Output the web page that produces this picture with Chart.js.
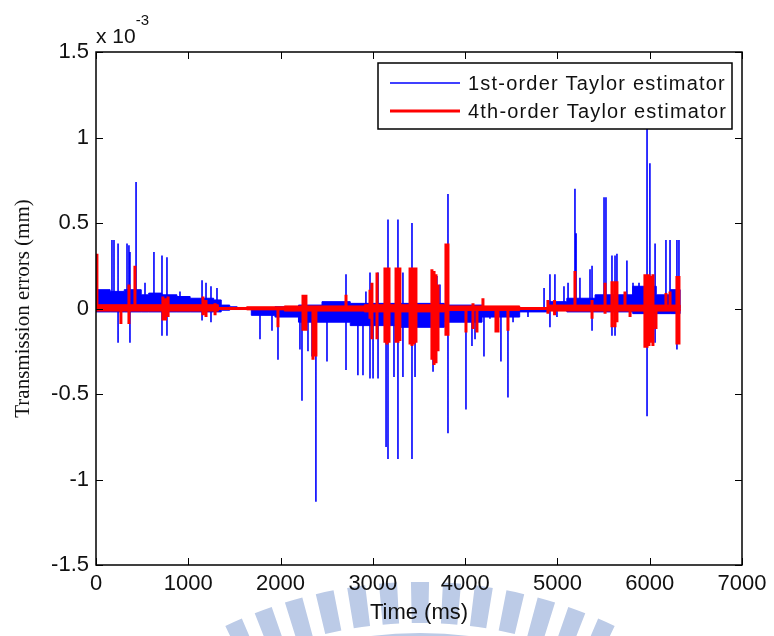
<!DOCTYPE html>
<html lang="en">
<head>
<meta charset="UTF-8">
<title>Transmission errors - Taylor estimators</title>
<script src="https://cdn.jsdelivr.net/npm/chart.js@4.4.1/dist/chart.umd.min.js"></script>
<style>
    html, body { margin: 0; padding: 0; background: #fff; }
    #wrap { width: 774px; height: 636px; }
</style>
</head>
<body>
<div id="wrap"><canvas id="errChart" width="774" height="636"></canvas></div>
<script>
// all values are in 1e-3 mm (the axis carries the "x 10^-3" multiplier)
const xTicks = [0, 1000, 2000, 3000, 4000, 5000, 6000, 7000];
const xTickLabels = ['0', '1000', '2000', '3000', '4000', '5000', '6000', '7000'];
const yTicks = [-1.5, -1, -0.5, 0, 0.5, 1, 1.5];
const yTickLabels = ['-1.5', '-1', '-0.5', '0', '0.5', '1', '1.5'];

const seriesStart = 0;
const seriesEnd = 6330;

// 1st-order estimator: isolated spikes (time ms, peak above / below zero)
const blueSpikeTimes = [173, 195, 239, 336, 357, 368, 434, 531, 628, 715, 769, 910, 1149, 1192, 1246, 1311,
    1777, 1907, 1972, 2210, 2232, 2297, 2341, 2383, 2503, 2709, 2838, 2893, 2925, 2969, 3002, 3056,
    3143, 3164, 3229, 3272, 3326, 3424, 3457, 3652, 3694, 3727, 3814, 4009, 4074, 4107, 4204, 4269,
    4388, 4464, 4519, 4681, 4855, 4919, 4973, 4995, 5071, 5115, 5190, 5202, 5244, 5353, 5375, 5505,
    5526, 5591, 5624, 5645, 5753, 5819, 5884, 5971, 6002, 6058, 6176, 6220, 6295, 6317];
const blueSpikeHigh = [0.40, 0.40, 0.38, 0.38, 0.37, 0.33, 0.74, 0.15, 0.33, 0.31, 0.30, 0.10, 0.165, 0.15, 0.13, 0.12,
    0, 0, 0, 0, 0, 0, 0, 0, 0, 0.20, 0, 0, 0.10, 0.21, 0, 0.21,
    0, 0.52, 0, 0.52, 0.21, 0.50, 0, 0, 0.19, 0.14, 0.67, 0, 0, 0, 0, 0,
    0, 0, 0, 0, 0.12, 0.20, 0.20, 0, 0.13, 0.15, 0.70, 0.44, 0.18, 0.23, 0.25, 0.65,
    0.65, 0.31, 0.31, 0.32, 0.28, 0.15, 0.15, 1.05, 0.85, 0.38, 0.40, 0.40, 0.40, 0.40];
const blueSpikeLow = [0, 0, -0.20, 0, 0, -0.20, 0, 0, 0, -0.16, -0.16, 0, -0.07, 0, -0.08, 0,
    -0.18, -0.13, -0.30, -0.24, -0.54, -0.25, -0.28, -1.13, -0.31, -0.36, -0.39, -0.39, 0, -0.41, -0.41, -0.41,
    -0.81, -0.88, -0.40, -0.88, -0.40, -0.88, -0.40, -0.37, 0, 0, -0.73, -0.59, -0.22, -0.18, -0.28, -0.06,
    -0.31, -0.52, -0.08, -0.05, 0, -0.11, 0, -0.05, 0, 0, 0, 0, 0, 0, -0.13, 0,
    0, -0.16, -0.16, 0, 0, 0, 0, -0.63, 0, -0.20, 0, 0, -0.24, 0];

// 1st-order estimator: envelope of the dense oscillation
const blueBandTimes = [0, 153, 306, 490, 571, 714, 877, 1020, 1173, 1275, 1357, 1449, 1530, 1683, 1939,
    2194, 2449, 2755, 3265, 3775, 4183, 4591, 4897, 5102, 5408, 5816, 6071, 6224, 6330];
const blueBandUpper = [0.11, 0.10, 0.11, 0.08, 0.09, 0.08, 0.07, 0.06, 0.06, 0.05, 0.02, 0.01, 0, 0, 0.01,
    0.02, 0.04, 0.03, 0.03, 0.02, 0.01, 0, 0.04, 0.06, 0.08, 0.13, 0.08, 0.11, 0];
const blueBandLower = [-0.02, -0.02, -0.02, -0.02, -0.02, -0.02, -0.02, -0.02, -0.02, -0.02, -0.01, 0, 0, -0.04, -0.05,
    -0.08, -0.08, -0.10, -0.11, -0.08, -0.05, -0.02, -0.01, -0.02, -0.02, -0.03, -0.03, -0.03, 0];

// 4th-order estimator: isolated spikes
const redSpikeTimes = [10, 270, 357, 422, 725, 753, 781, 1159, 1192, 1290, 1972, 2243, 2275, 2351, 2383,
    2709, 2969, 2990, 3045, 3131, 3153, 3175, 3251, 3272, 3293, 3403, 3424, 3446, 3467, 3640, 3663,
    3684, 3706, 3792, 3814, 4009, 4085, 4128, 4193, 4334, 4356, 4464, 4897, 4969, 5190, 5375, 5516,
    5591, 5624, 5645, 5732, 5787, 5948, 5971, 5992, 6014, 6035, 6068, 6176, 6220, 6295, 6317];
const redSpikeHigh = [0.32, 0, 0.14, 0.25, 0.07, 0.06, 0.07, 0.07, 0.05, 0.03, 0, 0.08, 0.08, 0, 0,
    0.08, 0.11, 0.15, 0.21, 0.24, 0.24, 0.24, 0.24, 0.24, 0.24, 0.24, 0.24, 0.24, 0.24, 0.23, 0.22,
    0.20, 0.14, 0.38, 0.38, 0, 0.03, 0, 0.06, 0, 0, 0, 0.05, 0.05, 0.22, 0.05, 0.15,
    0.16, 0.16, 0.16, 0.10, 0, 0.20, 0.20, 0.20, 0.19, 0.20, 0, 0.09, 0.10, 0.19, 0.19];
const redSpikeLow = [0, -0.09, -0.09, 0, -0.07, -0.07, -0.05, -0.04, -0.05, -0.04, -0.11, -0.13, -0.13, -0.30, -0.28,
    0, -0.06, -0.18, -0.18, -0.20, -0.21, -0.20, -0.20, -0.20, -0.19, -0.21, -0.22, -0.21, -0.20, -0.30, -0.33,
    -0.32, -0.25, -0.16, -0.16, -0.14, -0.12, -0.14, 0, -0.14, -0.14, -0.13, -0.03, -0.04, 0, -0.06, -0.03,
    -0.11, -0.11, -0.08, 0, -0.05, -0.23, -0.23, -0.22, -0.20, -0.22, -0.12, 0, 0, -0.21, -0.21];

// 4th-order estimator: envelope of the dense oscillation
const redBandTimes = [0, 1326, 1632, 2041, 2908, 3775, 4591, 4897, 6330];
const redBandUpper = [0.022, 0.006, 0.01, 0.015, 0.022, 0.015, 0.004, 0.02, 0];
const redBandLower = [-0.015, -0.006, -0.008, -0.015, -0.02, -0.012, -0.004, -0.015, 0];

const legendLabels = ['1st-order Taylor estimator', '4th-order Taylor estimator'];
const blue = '#0000ff';
const red = '#ff0000';

function spikePoints(times, highs, lows) {
    const pts = [{ x: seriesStart, y: 0 }];
    times.forEach((t, i) => {
        pts.push({ x: t, y: 0 });
        if (highs[i]) pts.push({ x: t, y: highs[i] });
        if (lows[i]) pts.push({ x: t, y: lows[i] });
        pts.push({ x: t, y: 0 });
    });
    pts.push({ x: seriesEnd, y: 0 });
    return pts;
}

function bandPoints(times, values) {
    return times.map((t, i) => ({ x: t, y: values[i] }));
}

// MATLAB-like box, inward ticks, exponent label, legend and the faint watermark
const matlabFrame = {
    id: 'matlabFrame',
    beforeDraw(chart) {
        const ctx = chart.ctx;
        ctx.save();
        ctx.fillStyle = '#bccbe7';
        const cx = 420, cy = 1035;
        for (let k = -6; k <= 6; k++) {
            const mid = -Math.PI / 2 + k * 0.0707;
            ctx.beginPath();
            ctx.arc(cx, cy, 453, mid - 0.02, mid + 0.02);
            ctx.arc(cx, cy, 412, mid + 0.02, mid - 0.02, true);
            ctx.closePath();
            ctx.fill();
        }
        ctx.beginPath();
        ctx.arc(cx, cy, 402, -Math.PI / 2 - 0.4, -Math.PI / 2 + 0.4);
        ctx.arc(cx, cy, 384, -Math.PI / 2 + 0.4, -Math.PI / 2 - 0.4, true);
        ctx.closePath();
        ctx.fill();
        ctx.restore();
    },
    afterDraw(chart) {
        const { ctx, chartArea: a, scales: { x, y } } = chart;
        ctx.save();
        ctx.strokeStyle = '#000';
        ctx.lineWidth = 1.5;
        ctx.strokeRect(a.left, a.top, a.right - a.left, a.bottom - a.top);
        ctx.beginPath();
        xTicks.forEach(v => {
            const px = Math.round(x.getPixelForValue(v)) + 0.5;
            ctx.moveTo(px, a.bottom); ctx.lineTo(px, a.bottom - 7);
            ctx.moveTo(px, a.top); ctx.lineTo(px, a.top + 7);
        });
        yTicks.forEach(v => {
            const py = Math.round(y.getPixelForValue(v)) + 0.5;
            ctx.moveTo(a.left, py); ctx.lineTo(a.left + 7, py);
            ctx.moveTo(a.right, py); ctx.lineTo(a.right - 7, py);
        });
        ctx.lineWidth = 1;
        ctx.stroke();

        // exponent label
        ctx.fillStyle = '#111';
        ctx.textBaseline = 'alphabetic';
        ctx.textAlign = 'left';
        ctx.font = '21px "Liberation Sans", Arial, sans-serif';
        ctx.fillText('x 10', a.left, a.top - 9);
        const w = ctx.measureText('x 10').width;
        ctx.font = '15px "Liberation Sans", Arial, sans-serif';
        ctx.fillText('-3', a.left + w, a.top - 27);

        // legend box
        const lx = 378, ly = 63, lw = 354, lh = 66;
        ctx.fillStyle = '#fff';
        ctx.fillRect(lx, ly, lw, lh);
        ctx.lineWidth = 1.5;
        ctx.strokeStyle = '#000';
        ctx.strokeRect(lx, ly, lw, lh);
        const rows = [{ c: blue, w: 1.6, yy: 83 }, { c: red, w: 3, yy: 111 }];
        ctx.font = '20px "Liberation Sans", Arial, sans-serif';
        ctx.textBaseline = 'middle';
        ctx.letterSpacing = '1.2px';
        rows.forEach((r, i) => {
            ctx.beginPath();
            ctx.strokeStyle = r.c;
            ctx.lineWidth = r.w;
            ctx.moveTo(390, r.yy); ctx.lineTo(460, r.yy);
            ctx.stroke();
            ctx.fillStyle = '#111';
            ctx.fillText(legendLabels[i], 468, r.yy + 1);
        });
        ctx.restore();
    }
};

Chart.defaults.font.family = '"Liberation Sans", Arial, sans-serif';
Chart.defaults.color = '#111';

const ctx = document.getElementById('errChart').getContext('2d');
const errChart = new Chart(ctx, {
    type: 'line',
    data: {
        datasets: [
            {
                label: legendLabels[0],
                data: spikePoints(blueSpikeTimes, blueSpikeHigh, blueSpikeLow),
                borderColor: blue,
                borderWidth: 1.6,
                order: 3
            },
            {
                label: legendLabels[1],
                data: spikePoints(redSpikeTimes, redSpikeHigh, redSpikeLow),
                borderColor: red,
                borderWidth: 3,
                order: 0
            },
            {
                label: 'blue band upper',
                data: bandPoints(blueBandTimes, blueBandUpper),
                borderColor: blue,
                backgroundColor: blue,
                borderWidth: 1,
                stepped: true,
                fill: '+1',
                order: 4
            },
            {
                label: 'blue band lower',
                data: bandPoints(blueBandTimes, blueBandLower),
                borderColor: blue,
                borderWidth: 1,
                stepped: true,
                fill: false,
                order: 4
            },
            {
                label: 'red band upper',
                data: bandPoints(redBandTimes, redBandUpper),
                borderColor: red,
                backgroundColor: red,
                borderWidth: 1,
                stepped: true,
                fill: '+1',
                order: 1
            },
            {
                label: 'red band lower',
                data: bandPoints(redBandTimes, redBandLower),
                borderColor: red,
                borderWidth: 1,
                stepped: true,
                fill: false,
                order: 1
            }
        ]
    },
    options: {
        responsive: false,
        animation: false,
        devicePixelRatio: 1,
        layout: { padding: { left: 0, right: 32, top: 52, bottom: 0 } },
        elements: { point: { radius: 0 }, line: { tension: 0 } },
        plugins: {
            legend: { display: false },
            tooltip: { enabled: false }
        },
        scales: {
            x: {
                type: 'linear',
                min: 0,
                max: 7000,
                grid: { display: false, drawTicks: false },
                border: { display: false },
                afterBuildTicks: s => { s.ticks = xTicks.map(v => ({ value: v })); },
                afterFit: s => { s.height = 71; s.paddingLeft = 0; s.paddingRight = 0; },
                ticks: {
                    padding: 6,
                    maxRotation: 0,
                    autoSkip: false,
                    font: { size: 22 },
                    callback: v => xTickLabels[xTicks.indexOf(v)]
                },
                title: {
                    display: true,
                    text: 'Time (ms)',
                    font: { size: 22 },
                    padding: { top: 10, bottom: 10 }
                }
            },
            y: {
                type: 'linear',
                min: -1.5,
                max: 1.5,
                grid: { display: false, drawTicks: false },
                border: { display: false },
                afterBuildTicks: s => { s.ticks = yTicks.map(v => ({ value: v })); },
                afterFit: s => { s.width = 96; s.paddingTop = 0; s.paddingBottom = 0; },
                ticks: {
                    padding: 7,
                    autoSkip: false,
                    font: { size: 22 },
                    callback: v => yTickLabels[yTicks.indexOf(v)]
                },
                title: {
                    display: true,
                    text: 'Transmission errors (mm)',
                    font: { family: '"Liberation Serif", "Times New Roman", serif', size: 21 },
                    padding: { top: 11, bottom: 11 }
                }
            }
        }
    },
    plugins: [matlabFrame]
});
</script>
</body>
</html>
